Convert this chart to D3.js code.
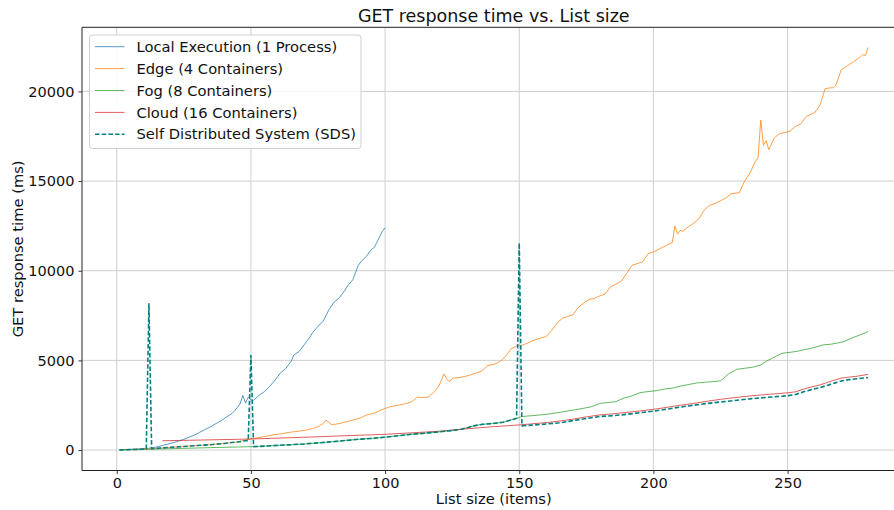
<!DOCTYPE html>
<html>
<head>
<meta charset="utf-8">
<script src="https://cdn.jsdelivr.net/npm/d3@7"></script>
<style>
  html, body { margin: 0; padding: 0; background: #fff; }
  svg { display: block; font-family: "DejaVu Sans", sans-serif; }
</style>
</head>
<body>
<svg id="chart" width="894" height="510"></svg>
<script>
// ---------------- DATA ----------------
const title = "GET response time vs. List size";
const xLabel = "List size (items)";
const yLabel = "GET response time (ms)";
const xTicks = [0, 50, 100, 150, 200, 250];
const yTicks = [0, 5000, 10000, 15000, 20000];

const seriesNames = ["Local Execution (1 Process)", "Edge (4 Containers)", "Fog (8 Containers)", "Cloud (16 Containers)", "Self Distributed System (SDS)"];

const localX = [1,3,5,7,9,11,13,15,17,19,21,23,25,27,29,31,33,35,37,39,41,43,44,45,46,47,48,49,50,51,53,55,57,59,61,63,65,66,68,70,72,73,75,77,79,81,83,85,86,88,90,91,93,95,96,98,99,100];
const localY = [10,25,40,55,70,90,120,180,250,330,410,500,600,720,840,1000,1150,1300,1480,1650,1850,2050,2200,2380,2600,3050,2620,2950,2800,2780,3050,3250,3550,3900,4300,4550,4950,5300,5500,5900,6300,6550,6900,7200,7800,8250,8500,8900,9150,9500,10300,10500,10800,11200,11300,11900,12200,12400];

const edgeX = [1,5,10,15,20,25,30,35,40,45,48,50,53,56,58,61,64,66,70,73,75,77,78,79,80,82,85,88,91,93,96,98,100,102,105,108,110,112,114,116,118,120,121,122,123,124,125,128,131,134,136,138,141,143,145,147,149,151,153,155,158,160,162,164,166,168,170,172,174,176,178,180,182,184,186,188,190,192,194,196,198,200,202,204,206,207,208,209,210,211,213,215,217,219,221,223,225,227,229,232,234,236,238,239,240,241,242,243,245,247,249,251,253,255,257,259,260,262,264,266,267,268,270,272,274,276,277,278,279,280];
const edgeY = [10,30,60,100,150,200,250,300,370,450,560,620,700,780,840,900,980,1020,1100,1200,1300,1490,1670,1550,1420,1450,1550,1670,1800,1950,2050,2200,2320,2420,2500,2600,2700,2950,2930,2950,3200,3550,3900,4240,3950,3810,4000,4050,4150,4300,4400,4700,4800,4950,5250,5650,5800,5850,5950,6100,6250,6330,6650,7050,7350,7450,7550,7950,8200,8400,8450,8600,8700,9100,9250,9400,9850,10300,10400,10500,10950,11050,11200,11350,11500,11550,12500,12050,12250,12200,12450,12650,12900,13400,13650,13750,13900,14050,14300,14350,15000,15450,16100,16300,18400,17000,17250,16750,17400,17650,17700,17800,18050,18200,18600,18750,18800,19200,20150,20200,20200,20350,21200,21400,21600,21800,21900,22050,22000,22450];

const fogX = [1,5,10,15,20,25,30,35,40,45,50,55,60,65,70,75,80,85,90,95,100,105,110,115,120,125,128,131,133,136,140,144,147,149,151,155,160,165,168,171,174,177,180,183,186,189,192,195,198,201,204,207,210,213,216,219,222,225,228,231,234,237,240,242,244,246,248,251,254,257,260,263,266,269,271,274,277,280];
const fogY = [5,20,35,55,75,95,115,135,155,170,190,220,260,300,340,400,460,530,600,650,720,800,880,940,1010,1090,1150,1260,1350,1430,1480,1550,1680,1770,1870,1920,1990,2100,2180,2250,2330,2420,2600,2650,2700,2900,3020,3200,3260,3310,3400,3450,3560,3650,3740,3780,3810,3860,4250,4500,4560,4620,4740,4950,5100,5250,5400,5450,5520,5620,5720,5860,5900,5980,6050,6250,6420,6600];

const cloudX = [17,25,35,45,55,65,75,85,95,100,110,120,130,140,150,160,165,170,175,180,185,190,195,200,205,210,215,220,225,230,235,240,245,250,253,256,259,262,265,268,270,273,276,280];
const cloudY = [520,540,570,600,640,690,740,800,850,880,960,1050,1180,1300,1400,1530,1620,1720,1850,1960,2020,2100,2180,2270,2380,2500,2600,2720,2830,2920,3000,3070,3130,3190,3250,3400,3520,3630,3780,3930,4010,4070,4120,4220];

const sdsX = [1,3,5,7,9,11,12,13,15,20,25,30,35,40,45,48,49,50,51,55,60,65,70,75,80,85,90,95,100,105,110,115,120,125,128,131,133,136,140,144,147,149,150,151,160,165,170,175,180,185,190,195,200,205,210,215,220,225,230,235,240,245,250,253,256,259,262,265,268,270,273,276,280];
const sdsY = [5,15,25,35,45,60,8150,80,100,150,200,250,300,370,450,520,530,5270,190,220,260,300,340,400,460,530,600,650,720,800,880,940,1010,1090,1150,1260,1350,1430,1480,1550,1680,1770,11540,1350,1450,1520,1640,1760,1870,1920,1990,2080,2170,2280,2400,2500,2600,2680,2760,2840,2910,2970,3030,3100,3250,3370,3480,3620,3760,3850,3930,3980,4040];

// ---------------- LAYOUT ----------------
const svg = d3.select("#chart");
const plot = { left: 82, right: 905.5, top: 27.3, bottom: 470.5 };

const x = d3.scaleLinear().domain([-12.95, 293.95]).range([plot.left, plot.right]);
const y = d3.scaleLinear().domain([-1140, 23575]).range([plot.bottom, plot.top]);

const colors = ["#1f77b4", "#ff7f0e", "#2ca02c", "#d62728", "#008080"];

// grid
const grid = svg.append("g").attr("class", "grid");
grid.selectAll("line.gx").data(xTicks).join("line")
  .attr("x1", d => x(d)).attr("x2", d => x(d))
  .attr("y1", plot.top).attr("y2", plot.bottom)
  .attr("stroke", "#cfcfcf").attr("stroke-width", 1);
grid.selectAll("line.gy").data(yTicks).join("line")
  .attr("x1", plot.left).attr("x2", plot.right)
  .attr("y1", d => y(d)).attr("y2", d => y(d))
  .attr("stroke", "#cfcfcf").attr("stroke-width", 1);

// clip
svg.append("clipPath").attr("id", "clip").append("rect")
  .attr("x", plot.left).attr("y", plot.top)
  .attr("width", plot.right - plot.left).attr("height", plot.bottom - plot.top);

const line = d3.line().x(d => x(d[0])).y(d => y(d[1]));
const zip = (xs, ys) => xs.map((v, i) => [v, ys[i]]);

const series = [
  zip(localX, localY),
  zip(edgeX, edgeY),
  zip(fogX, fogY),
  zip(cloudX, cloudY),
  zip(sdsX, sdsY)
];

const lines = svg.append("g").attr("clip-path", "url(#clip)");
series.forEach((s, i) => {
  const p = lines.append("path").datum(s)
    .attr("d", line)
    .attr("fill", "none")
    .attr("stroke", colors[i])
    .attr("stroke-linejoin", "round");
  if (i === 4) {
    p.attr("stroke-width", 1.6).attr("stroke-dasharray", "4.5,2.2");
  } else {
    p.attr("stroke-width", 1).attr("stroke-opacity", 0.75);
  }
});

// axes
const xAxis = d3.axisBottom(x).tickValues(xTicks).tickSize(3.5).tickPadding(4).tickFormat(d3.format("d"));
const yAxis = d3.axisLeft(y).tickValues(yTicks).tickSize(3.5).tickPadding(4).tickFormat(d3.format("d"));

const gx = svg.append("g").attr("transform", `translate(0,${plot.bottom})`).call(xAxis);
const gy = svg.append("g").attr("transform", `translate(${plot.left},0)`).call(yAxis);
[gx, gy].forEach(g => {
  g.select(".domain").remove();
  g.selectAll(".tick line").attr("stroke", "#222").attr("stroke-width", 0.9);
  g.selectAll(".tick text").attr("fill", "#111").style("font-size", "14.5px").style("font-family", "DejaVu Sans");
});

// spines
const sp = svg.append("g").attr("stroke", "#222").attr("stroke-width", 1);
sp.append("line").attr("x1", plot.left).attr("x2", plot.left).attr("y1", plot.top).attr("y2", plot.bottom);
sp.append("line").attr("x1", plot.left).attr("x2", plot.right).attr("y1", plot.bottom).attr("y2", plot.bottom);
sp.append("line").attr("x1", plot.left).attr("x2", plot.right).attr("y1", plot.top).attr("y2", plot.top);
sp.append("line").attr("x1", plot.right).attr("x2", plot.right).attr("y1", plot.top).attr("y2", plot.bottom);

// labels
svg.append("text").attr("x", (plot.left + plot.right) / 2).attr("y", 22)
  .attr("text-anchor", "middle").style("font-size", "17.5px").attr("fill", "#111").text(title);
svg.append("text").attr("x", (plot.left + plot.right) / 2).attr("y", 504)
  .attr("text-anchor", "middle").style("font-size", "14.7px").attr("fill", "#111").text(xLabel);
svg.append("text").attr("transform", `translate(23,${(plot.top + plot.bottom) / 2}) rotate(-90)`)
  .attr("text-anchor", "middle").style("font-size", "14.7px").attr("fill", "#111").text(yLabel);

// legend
const leg = svg.append("g");
leg.append("rect").attr("x", 89.5).attr("y", 35).attr("width", 271.5).attr("height", 113.5)
  .attr("rx", 3).attr("fill", "#fff").attr("fill-opacity", 0.85)
  .attr("stroke", "#d0d0d0").attr("stroke-width", 1);
seriesNames.forEach((name, i) => {
  const cy = 46.7 + i * 21.9;
  const l = leg.append("line").attr("x1", 95).attr("x2", 124.5).attr("y1", cy).attr("y2", cy)
    .attr("stroke", colors[i]);
  if (i === 4) l.attr("stroke-width", 1.6).attr("stroke-dasharray", "4.5,2.2");
  else l.attr("stroke-width", 1).attr("stroke-opacity", 0.75);
  leg.append("text").attr("x", 136.5).attr("y", cy).attr("dy", "0.35em")
    .style("font-size", "14.7px").attr("fill", "#111").text(name);
});
</script>
</body>
</html>
